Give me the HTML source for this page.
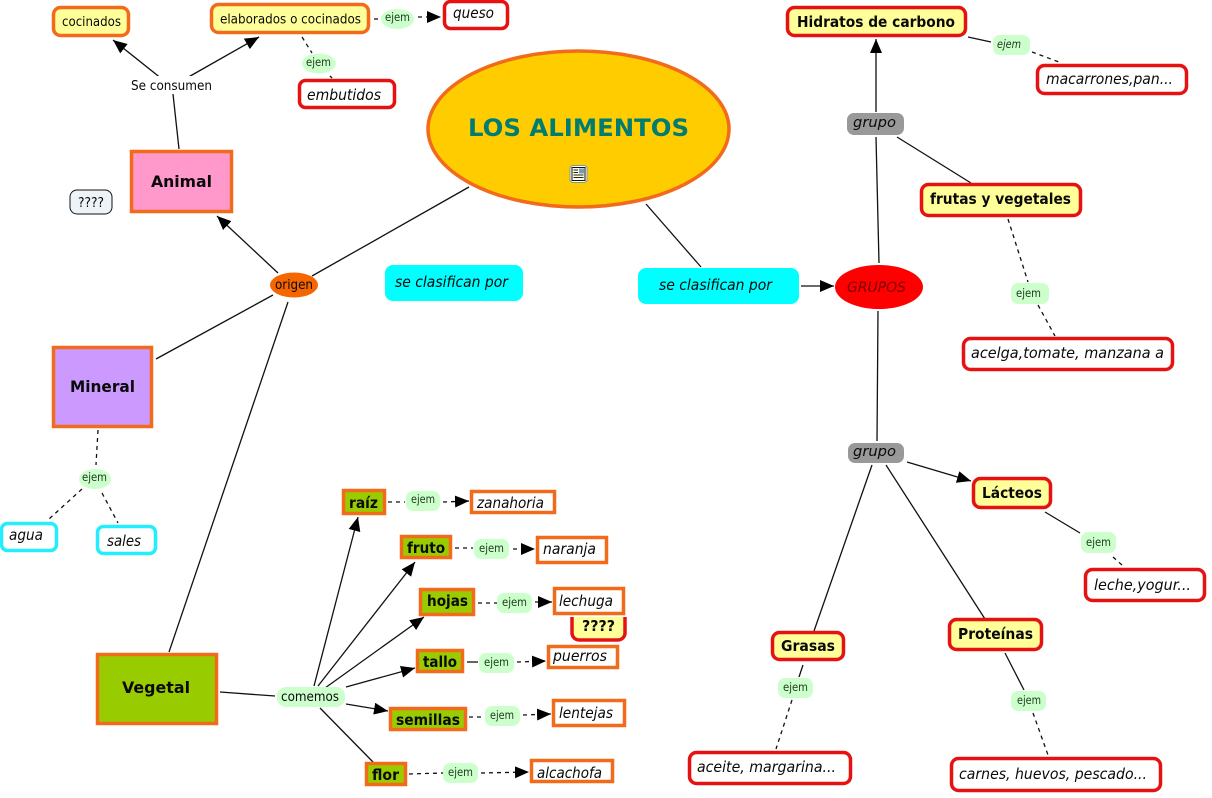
<!DOCTYPE html>
<html>
<head>
<meta charset="utf-8">
<title>Los alimentos</title>
<style>
html,body{margin:0;padding:0;background:#fff}
svg{display:block}
text{font-family:"DejaVu Sans","Liberation Sans",sans-serif;fill:#0a0a0a;font-size:13px}
.b{font-weight:bold;font-size:15px}
.i{font-style:italic;font-size:15px}
.s{font-size:11.5px;fill:#1c3a1c}
.r{font-size:13px}
.o{stroke:#f26a1b;stroke-width:3.500}
.e{stroke:#e61212;stroke-width:3.500}
.c{stroke:#22eeff;stroke-width:3.500}
line{stroke:#111;stroke-width:1.300}
.d{stroke-dasharray:4 4}
.a{marker-end:url(#h)}
</style>
</head>
<body>
<svg width="1212" height="798" viewBox="0 0 1212 798" xmlns="http://www.w3.org/2000/svg">
<defs>
<marker id="h" markerUnits="userSpaceOnUse" markerWidth="14" markerHeight="12" refX="14" refY="6" orient="auto">
<path d="M0,0 L14,6 L0,12 z" fill="#000"/>
</marker>
</defs>

<!-- connectors -->
<line x1="173" y1="94" x2="179" y2="149"/>
<line class="a" x1="162" y1="79" x2="113" y2="40"/>
<line class="a" x1="185" y1="79" x2="259" y2="37"/>
<line class="d" x1="374" y1="19" x2="380" y2="19"/>
<line class="d a" x1="418" y1="17" x2="441" y2="17"/>
<line class="d" x1="302" y1="37" x2="312" y2="53"/>
<line class="d" x1="330" y1="76" x2="332" y2="78"/>
<line class="a" x1="278" y1="273" x2="217" y2="216"/>
<line x1="469" y1="187" x2="312" y2="276"/>
<line x1="273" y1="295" x2="156" y2="359"/>
<line x1="288" y1="302" x2="169" y2="652"/>
<line x1="646" y1="204" x2="701" y2="267"/>
<line class="a" x1="801" y1="286" x2="834" y2="286"/>
<line x1="879" y1="263" x2="876" y2="137"/>
<line class="a" x1="876" y1="112" x2="876" y2="39"/>
<line x1="897" y1="137" x2="971" y2="183"/>
<line x1="968" y1="37" x2="991" y2="42"/>
<line class="d" x1="1032" y1="52" x2="1059" y2="62"/>
<line class="d" x1="1008" y1="219" x2="1028" y2="282"/>
<line class="d" x1="1038" y1="305" x2="1055" y2="336"/>
<line x1="878" y1="311" x2="877" y2="441"/>
<line class="a" x1="907" y1="462" x2="971" y2="481"/>
<line x1="872" y1="465" x2="814" y2="631"/>
<line x1="886" y1="465" x2="985" y2="619"/>
<line x1="1045" y1="512" x2="1080" y2="533"/>
<line class="d" x1="1113" y1="557" x2="1122" y2="565"/>
<line x1="803" y1="665" x2="799" y2="677"/>
<line class="d" x1="792" y1="700" x2="776" y2="749"/>
<line x1="1005" y1="653" x2="1024" y2="690"/>
<line class="d" x1="1033" y1="713" x2="1048" y2="755"/>
<line class="d" x1="98" y1="430" x2="96" y2="465"/>
<line class="d" x1="82" y1="489" x2="49" y2="519"/>
<line class="d" x1="102" y1="493" x2="118" y2="523"/>
<line x1="220" y1="692" x2="275" y2="696"/>
<line class="a" x1="314" y1="686" x2="358" y2="517"/>
<line class="a" x1="318" y1="686" x2="415" y2="562"/>
<line class="a" x1="325" y1="688" x2="424" y2="617"/>
<line class="a" x1="346" y1="687" x2="415" y2="668"/>
<line class="a" x1="346" y1="704" x2="388" y2="711"/>
<line x1="320" y1="708" x2="373" y2="762"/>
<line class="d" x1="388" y1="502" x2="405" y2="502"/>
<line class="d a" x1="443" y1="502" x2="469" y2="501"/>
<line class="d" x1="455" y1="548" x2="473" y2="548"/>
<line class="d a" x1="513" y1="549" x2="535" y2="549"/>
<line class="d" x1="478" y1="603" x2="497" y2="603"/>
<line class="a" x1="535" y1="602" x2="552" y2="602"/>
<line x1="467" y1="662" x2="478" y2="662"/>
<line class="d a" x1="517" y1="662" x2="546" y2="661"/>
<line class="d" x1="469" y1="717" x2="482" y2="717"/>
<line class="d a" x1="523" y1="715" x2="551" y2="714"/>
<line class="d" x1="409" y1="774" x2="443" y2="773"/>
<line class="d a" x1="481" y1="773" x2="529" y2="772"/>

<!-- main concept -->
<ellipse cx="578.500" cy="129" rx="150.500" ry="78" fill="#ffcc00" stroke="#f26a1b" stroke-width="3.500"/>
<text x="468" y="136" textLength="221" lengthAdjust="spacingAndGlyphs" style="font-size:24px;font-weight:bold;fill:#007c70">LOS ALIMENTOS</text>
<rect x="570" y="165.500" width="17" height="17" rx="3" fill="#fff" stroke="#7d9a9a" stroke-width="1"/>
<rect x="572" y="167.500" width="13" height="13" fill="#fffde0" stroke="#111" stroke-width="1"/>
<path d="M573.500 170H578M573.500 172.500H578M573.500 175H583.500M573.500 177.500H583.500" stroke="#222" stroke-width="1"/>
<rect x="579" y="168.500" width="5" height="5" fill="#7a9ac0"/>

<!-- top-left -->
<rect x="53.500" y="7.500" width="75" height="28" rx="7" fill="#ffff99" class="o"/>
<text class="r" x="62" y="26" textLength="59" lengthAdjust="spacingAndGlyphs">cocinados</text>
<rect x="211.500" y="4.500" width="157" height="28" rx="7" fill="#ffff99" class="o"/>
<text class="r" x="220" y="23.500" textLength="141" lengthAdjust="spacingAndGlyphs">elaborados o cocinados</text>
<ellipse cx="397.500" cy="19" rx="16.500" ry="10" fill="#ccffcc"/>
<text class="s" x="385" y="21" textLength="25" lengthAdjust="spacingAndGlyphs">ejem</text>
<rect x="444.500" y="1.500" width="63" height="27" rx="6" fill="#fff" class="e"/>
<text class="i" x="453" y="18" textLength="41" lengthAdjust="spacingAndGlyphs">queso</text>
<ellipse cx="319" cy="63.500" rx="17" ry="10" fill="#ccffcc"/>
<text class="s" x="306" y="66" textLength="25" lengthAdjust="spacingAndGlyphs">ejem</text>
<rect x="299.500" y="80.500" width="95" height="27" rx="6" fill="#fff" class="e"/>
<text class="i" x="307" y="100" textLength="74" lengthAdjust="spacingAndGlyphs">embutidos</text>
<rect x="128" y="76" width="88" height="18" fill="#fff"/>
<text class="r" x="131" y="90" textLength="81" lengthAdjust="spacingAndGlyphs">Se consumen</text>

<rect x="131.500" y="151.500" width="100" height="60" fill="#ff99cc" class="o"/>
<text class="b" x="151" y="187" textLength="61" lengthAdjust="spacingAndGlyphs" style="font-size:16px">Animal</text>
<rect x="70" y="190" width="42" height="24" rx="7" fill="#eef3f7" stroke="#111" stroke-width="1"/>
<text class="r" x="78" y="207" textLength="26" lengthAdjust="spacingAndGlyphs">????</text>

<ellipse cx="294" cy="285" rx="24" ry="12.500" fill="#f66600"/>
<text class="r" x="275" y="289" textLength="38" lengthAdjust="spacingAndGlyphs">origen</text>

<rect x="385" y="265" width="138" height="36" rx="8" fill="#00ffff"/>
<text class="i" x="395" y="287" textLength="113" lengthAdjust="spacingAndGlyphs">se clasifican por</text>
<rect x="638" y="268" width="161" height="36" rx="8" fill="#00ffff"/>
<text class="i" x="659" y="290" textLength="113" lengthAdjust="spacingAndGlyphs">se clasifican por</text>
<ellipse cx="879" cy="287" rx="44" ry="22" fill="#ff0000"/>
<text class="i" x="847" y="292" textLength="59" lengthAdjust="spacingAndGlyphs" style="font-size:14px;fill:#7a0000">GRUPOS</text>

<!-- right -->
<rect x="787.500" y="7.500" width="178" height="28" rx="7" fill="#ffff99" class="e"/>
<text class="b" x="797" y="27" textLength="158" lengthAdjust="spacingAndGlyphs">Hidratos de carbono</text>
<rect x="993" y="35" width="37" height="20" rx="7" fill="#ccffcc"/>
<text class="s" x="997" y="48" textLength="24" lengthAdjust="spacingAndGlyphs" style="font-style:italic">ejem</text>
<rect x="1037.500" y="65.500" width="149" height="28" rx="7" fill="#fff" class="e"/>
<text class="i" x="1046" y="84" textLength="127" lengthAdjust="spacingAndGlyphs">macarrones,pan...</text>
<rect x="847" y="113" width="57" height="22" rx="7" fill="#999999"/>
<text class="i" x="853" y="127" textLength="43" lengthAdjust="spacingAndGlyphs" style="font-size:14px">grupo</text>
<rect x="921.500" y="184.500" width="159" height="31" rx="7" fill="#ffff99" class="e"/>
<text class="b" x="930" y="204" textLength="141" lengthAdjust="spacingAndGlyphs">frutas y vegetales</text>
<rect x="1011" y="283" width="38" height="21" rx="7" fill="#ccffcc"/>
<text class="s" x="1016" y="297" textLength="25" lengthAdjust="spacingAndGlyphs">ejem</text>
<rect x="963.500" y="338.500" width="209" height="31" rx="7" fill="#fff" class="e"/>
<text class="i" x="971" y="358" textLength="193" lengthAdjust="spacingAndGlyphs">acelga,tomate, manzana a</text>
<rect x="848" y="443" width="56" height="20" rx="7" fill="#999999"/>
<text class="i" x="853" y="456" textLength="43" lengthAdjust="spacingAndGlyphs" style="font-size:14px">grupo</text>
<rect x="973.500" y="478.500" width="77" height="29" rx="7" fill="#ffff99" class="e"/>
<text class="b" x="982" y="498" textLength="60" lengthAdjust="spacingAndGlyphs">Lácteos</text>
<rect x="1081" y="532" width="35" height="21" rx="7" fill="#ccffcc"/>
<text class="s" x="1086" y="546" textLength="25" lengthAdjust="spacingAndGlyphs">ejem</text>
<rect x="1085.500" y="569.500" width="119" height="31" rx="7" fill="#fff" class="e"/>
<text class="i" x="1094" y="590" textLength="97" lengthAdjust="spacingAndGlyphs">leche,yogur...</text>
<rect x="772.500" y="632.500" width="71" height="27" rx="7" fill="#ffff99" class="e"/>
<text class="b" x="781" y="651" textLength="54" lengthAdjust="spacingAndGlyphs">Grasas</text>
<rect x="778" y="678" width="35" height="20" rx="7" fill="#ccffcc"/>
<text class="s" x="783" y="691" textLength="25" lengthAdjust="spacingAndGlyphs">ejem</text>
<rect x="689.500" y="752.500" width="161" height="31" rx="7" fill="#fff" class="e"/>
<text class="i" x="697" y="772" textLength="139" lengthAdjust="spacingAndGlyphs">aceite, margarina...</text>
<rect x="949.500" y="619.500" width="92" height="30" rx="7" fill="#ffff99" class="e"/>
<text class="b" x="958" y="639" textLength="75" lengthAdjust="spacingAndGlyphs">Proteínas</text>
<rect x="1011" y="691" width="35" height="20" rx="7" fill="#ccffcc"/>
<text class="s" x="1017" y="704" textLength="24" lengthAdjust="spacingAndGlyphs">ejem</text>
<rect x="951.500" y="758.500" width="209" height="32" rx="7" fill="#fff" class="e"/>
<text class="i" x="959" y="779" textLength="188" lengthAdjust="spacingAndGlyphs">carnes, huevos, pescado...</text>

<!-- mineral -->
<rect x="53.500" y="347.500" width="98" height="79" fill="#cc99ff" class="o"/>
<text class="b" x="70" y="392" textLength="65" lengthAdjust="spacingAndGlyphs" style="font-size:16px">Mineral</text>
<ellipse cx="95" cy="479" rx="16" ry="10" fill="#ccffcc"/>
<text class="s" x="82" y="481" textLength="25" lengthAdjust="spacingAndGlyphs">ejem</text>
<rect x="1.500" y="523.500" width="55" height="27" rx="6" fill="#fff" class="c"/>
<text class="i" x="9" y="540" textLength="34" lengthAdjust="spacingAndGlyphs">agua</text>
<rect x="97.500" y="526.500" width="58" height="27" rx="6" fill="#fff" class="c"/>
<text class="i" x="107" y="546" textLength="34" lengthAdjust="spacingAndGlyphs">sales</text>

<!-- vegetal -->
<rect x="97.500" y="654.500" width="119" height="69" fill="#99cc00" class="o"/>
<text class="b" x="122" y="693" textLength="68" lengthAdjust="spacingAndGlyphs" style="font-size:16px">Vegetal</text>
<rect x="277" y="687" width="68" height="20" rx="9" fill="#ccffcc"/>
<text class="r" x="281" y="701" textLength="58" lengthAdjust="spacingAndGlyphs">comemos</text>

<rect x="343.500" y="490.500" width="41" height="23" fill="#99cc00" class="o"/>
<text class="b" x="349" y="508" textLength="29" lengthAdjust="spacingAndGlyphs">raíz</text>
<rect x="406" y="491" width="34" height="20" rx="7" fill="#ccffcc"/>
<text class="s" x="411" y="503" textLength="24" lengthAdjust="spacingAndGlyphs">ejem</text>
<rect x="471.500" y="491.500" width="83" height="21" fill="#fff" class="o"/>
<text class="i" x="477" y="508" textLength="67" lengthAdjust="spacingAndGlyphs">zanahoria</text>

<rect x="401.500" y="536.500" width="49" height="21" fill="#99cc00" class="o"/>
<text class="b" x="407" y="553" textLength="38" lengthAdjust="spacingAndGlyphs">fruto</text>
<rect x="474" y="539" width="35" height="20" rx="7" fill="#ccffcc"/>
<text class="s" x="479" y="552" textLength="25" lengthAdjust="spacingAndGlyphs">ejem</text>
<rect x="537.500" y="537.500" width="69" height="25" fill="#fff" class="o"/>
<text class="i" x="543" y="554" textLength="53" lengthAdjust="spacingAndGlyphs">naranja</text>

<rect x="572" y="605" width="53" height="35" rx="7" fill="#ffff99" stroke="#e61212" stroke-width="3.500"/>
<rect x="567" y="600" width="62" height="17" fill="#fff"/>
<text class="b" x="582" y="631" textLength="33" lengthAdjust="spacingAndGlyphs">????</text>
<rect x="420.500" y="589.500" width="53" height="25" fill="#99cc00" class="o"/>
<text class="b" x="427" y="606" textLength="41" lengthAdjust="spacingAndGlyphs">hojas</text>
<rect x="497" y="593" width="35" height="20" rx="7" fill="#ccffcc"/>
<text class="s" x="502" y="606" textLength="25" lengthAdjust="spacingAndGlyphs">ejem</text>
<rect x="554.500" y="588.500" width="69" height="25" fill="#fff" class="o"/>
<text class="i" x="559" y="606" textLength="54" lengthAdjust="spacingAndGlyphs">lechuga</text>

<rect x="417.500" y="650.500" width="45" height="21" fill="#99cc00" class="o"/>
<text class="b" x="423" y="667" textLength="34" lengthAdjust="spacingAndGlyphs">tallo</text>
<rect x="479" y="653" width="35" height="20" rx="7" fill="#ccffcc"/>
<text class="s" x="484" y="666" textLength="25" lengthAdjust="spacingAndGlyphs">ejem</text>
<rect x="548.500" y="646.500" width="69" height="21" fill="#fff" class="o"/>
<text class="i" x="553" y="661" textLength="54" lengthAdjust="spacingAndGlyphs">puerros</text>

<rect x="390.500" y="708.500" width="75" height="21" fill="#99cc00" class="o"/>
<text class="b" x="396" y="725" textLength="64" lengthAdjust="spacingAndGlyphs">semillas</text>
<rect x="485" y="706" width="35" height="20" rx="7" fill="#ccffcc"/>
<text class="s" x="490" y="719" textLength="24" lengthAdjust="spacingAndGlyphs">ejem</text>
<rect x="553.500" y="700.500" width="71" height="25" fill="#fff" class="o"/>
<text class="i" x="559" y="718" textLength="54" lengthAdjust="spacingAndGlyphs">lentejas</text>

<rect x="366.500" y="763.500" width="39" height="21" fill="#99cc00" class="o"/>
<text class="b" x="372" y="780" textLength="27" lengthAdjust="spacingAndGlyphs">flor</text>
<rect x="443" y="763" width="35" height="20" rx="7" fill="#ccffcc"/>
<text class="s" x="448" y="776" textLength="25" lengthAdjust="spacingAndGlyphs">ejem</text>
<rect x="531.500" y="760.500" width="81" height="21" fill="#fff" class="o"/>
<text class="i" x="537" y="778" textLength="65" lengthAdjust="spacingAndGlyphs">alcachofa</text>
</svg>
</body>
</html>
